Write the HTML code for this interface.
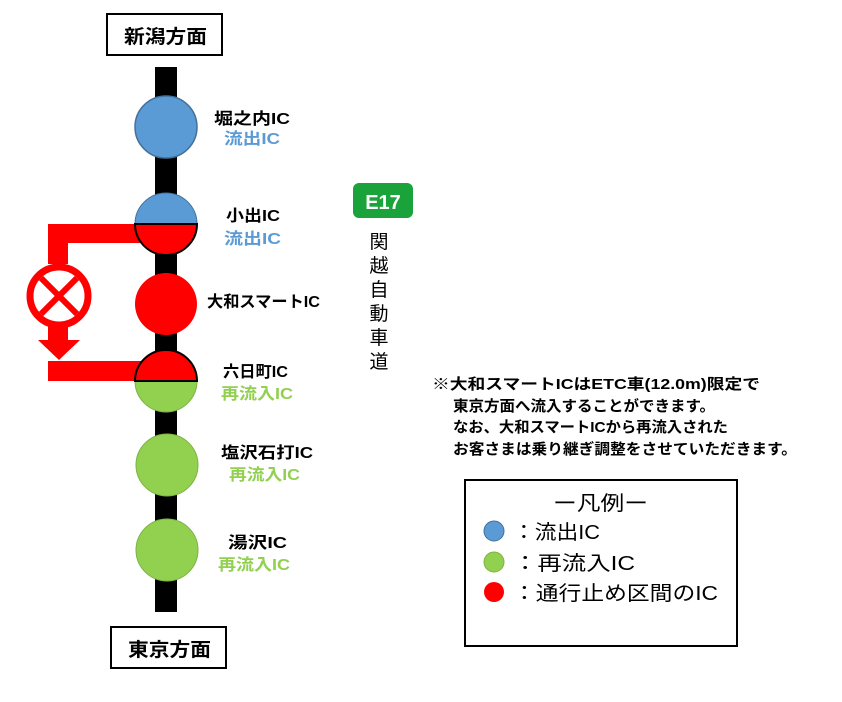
<!DOCTYPE html>
<html><head><meta charset="utf-8"><style>
html,body{margin:0;padding:0;background:#fff;width:842px;height:702px;overflow:hidden}
svg text{font-family:"Liberation Sans","Noto Sans CJK JP",sans-serif}
</style></head><body>
<svg width="842" height="702" viewBox="0 0 842 702" xmlns="http://www.w3.org/2000/svg">
<rect x="107" y="14" width="115" height="41" fill="#fff" stroke="#000" stroke-width="2"/>
<text x="124" y="43" font-size="19" font-weight="bold" textLength="83" lengthAdjust="spacingAndGlyphs">新潟方面</text>
<rect x="111" y="627" width="115" height="41" fill="#fff" stroke="#000" stroke-width="2"/>
<text x="128" y="656" font-size="19" font-weight="bold" textLength="83" lengthAdjust="spacingAndGlyphs">東京方面</text>
<rect x="155" y="67" width="22" height="545" fill="#000"/>
<rect x="48" y="224" width="100" height="19" fill="#ff0000"/>
<rect x="48" y="361" width="100" height="20" fill="#ff0000"/>
<rect x="48" y="224" width="20" height="40" fill="#ff0000"/>
<rect x="48" y="325" width="20" height="17" fill="#ff0000"/>
<polygon points="38,340 80,340 59,360" fill="#ff0000"/>
<circle cx="59" cy="296" r="29" fill="#fff" stroke="#ff0000" stroke-width="7"/>
<line x1="41" y1="278" x2="77" y2="314" stroke="#ff0000" stroke-width="6"/>
<line x1="77" y1="278" x2="41" y2="314" stroke="#ff0000" stroke-width="6"/>
<circle cx="166" cy="127" r="31" fill="#5b9bd5" stroke="#41719c" stroke-width="1.5"/>
<path d="M135,224 A31,31 0 0 1 197,224 Z" fill="#5b9bd5" stroke="#41719c" stroke-width="1"/>
<path d="M135,224 A31,31 0 0 0 197,224 Z" fill="#ff0000" stroke="#000" stroke-width="2"/>
<circle cx="166" cy="304" r="31" fill="#ff0000"/>
<path d="M135,381 A31,31 0 0 0 197,381 Z" fill="#92d050" stroke="#7cb342" stroke-width="1"/>
<path d="M135,381 A31,31 0 0 1 197,381 Z" fill="#ff0000" stroke="#000" stroke-width="2"/>
<circle cx="167" cy="465" r="31" fill="#92d050" stroke="#7cb342" stroke-width="1"/>
<circle cx="167" cy="550" r="31" fill="#92d050" stroke="#7cb342" stroke-width="1"/>
<g font-size="16" font-weight="bold" lengthAdjust="spacingAndGlyphs">
<text x="214" y="124" textLength="76" lengthAdjust="spacingAndGlyphs">堀之内IC</text>
<text x="224" y="144" fill="#5b9bd5" textLength="56" lengthAdjust="spacingAndGlyphs">流出IC</text>
<text x="226" y="221" textLength="54" lengthAdjust="spacingAndGlyphs">小出IC</text>
<text x="224" y="244" fill="#5b9bd5" textLength="57" lengthAdjust="spacingAndGlyphs">流出IC</text>
<text x="207" y="307" textLength="113" lengthAdjust="spacingAndGlyphs">大和スマートIC</text>
<text x="223" y="377" textLength="65" lengthAdjust="spacingAndGlyphs">六日町IC</text>
<text x="221" y="399" fill="#92d050" textLength="72" lengthAdjust="spacingAndGlyphs">再流入IC</text>
<text x="221" y="458" textLength="92" lengthAdjust="spacingAndGlyphs">塩沢石打IC</text>
<text x="229" y="480" fill="#92d050" textLength="71" lengthAdjust="spacingAndGlyphs">再流入IC</text>
<text x="228" y="548" textLength="59" lengthAdjust="spacingAndGlyphs">湯沢IC</text>
<text x="218" y="570" fill="#92d050" textLength="72" lengthAdjust="spacingAndGlyphs">再流入IC</text>
</g>
<rect x="353" y="183" width="60" height="35" rx="6" fill="#1aa33a"/>
<text x="383" y="209" font-size="20" fill="#fff" text-anchor="middle" font-weight="bold">E17</text>
<g font-size="19" text-anchor="middle">
<text x="379" y="248">関</text><text x="379" y="272">越</text><text x="379" y="296">自</text>
<text x="379" y="320">動</text><text x="379" y="344">車</text><text x="379" y="368">道</text>
</g>
<g font-size="15" font-weight="bold">
<text x="432" y="389" textLength="328" lengthAdjust="spacingAndGlyphs">※大和スマートICはETC車(12.0m)限定で</text>
<text x="453" y="411" textLength="262" lengthAdjust="spacingAndGlyphs">東京方面へ流入することができます。</text>
<text x="453" y="432" textLength="275" lengthAdjust="spacingAndGlyphs">なお、大和スマートICから再流入された</text>
<text x="453" y="454" textLength="344" lengthAdjust="spacingAndGlyphs">お客さまは乗り継ぎ調整をさせていただきます。</text>
</g>
<rect x="465" y="480" width="272" height="166" fill="#fff" stroke="#000" stroke-width="2"/>
<text x="553" y="510" font-size="20" textLength="95" lengthAdjust="spacingAndGlyphs">ー凡例ー</text>
<circle cx="494" cy="531" r="10" fill="#5b9bd5" stroke="#41719c"/>
<circle cx="494" cy="562" r="10" fill="#92d050" stroke="#7cb342"/>
<circle cx="494" cy="592" r="10" fill="#ff0000"/>
<g font-size="20">
<text x="513" y="539" textLength="87" lengthAdjust="spacingAndGlyphs">：流出IC</text>
<text x="513" y="570" textLength="122" lengthAdjust="spacingAndGlyphs">：再流入IC</text>
<text x="513" y="600" textLength="205" lengthAdjust="spacingAndGlyphs">：通行止め区間のIC</text>
</g>
</svg>
</body></html>
